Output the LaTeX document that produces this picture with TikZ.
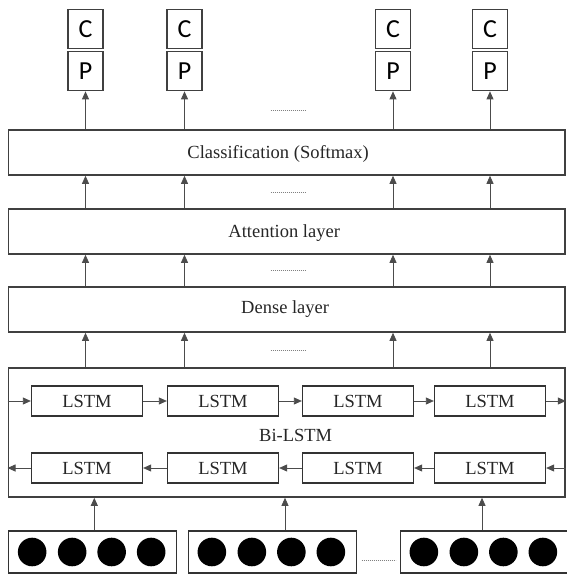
\documentclass[tikz,border=0pt]{standalone}
\usepackage{fontspec}
\setmainfont{Liberation Serif}
\newfontfamily\cpfont{Carlito}
\usepackage{tikz}
\usetikzlibrary{arrows.meta,positioning,calc}

\begin{document}
\begin{tikzpicture}[
  x=1pt, y=1pt,
  layer/.style={rectangle, draw=black!75, line width=1.6pt, minimum width=556.7pt, minimum height=45pt},
  lbl/.style={text=black!85, font=\fontsize{18.5}{22}\selectfont},
  cell/.style={rectangle, draw=black!80, line width=1.3pt, minimum width=111pt, minimum height=30pt, text=black!85, font=\fontsize{18.5}{22}\selectfont},
  outbox/.style={rectangle, draw=black!75, line width=1.3pt, minimum width=35pt, minimum height=39pt, inner sep=0pt, font=\cpfont\fontsize{26}{28}\selectfont},
  inbox/.style={rectangle, draw=black!80, line width=1.3pt, minimum width=168pt, minimum height=42pt},
  arrow/.style={-{Triangle[length=8pt, width=7pt]}, line width=0.8pt, draw=black!70},
  gapdots/.style={dash pattern=on 1.2pt off 0.8pt, line width=0.9pt, draw=black!50},
]
  \useasboundingbox (0,0) rectangle (566,-575);

  % Classification Layer
  \node[layer] (class) at (286.65,-152.5) {};
  \node[lbl] (classlbl) at ([xshift=-8.5pt, yshift=-1.5pt]class.center) {Classification (Softmax)};

  % Outputs
  \node[outbox] (p1) at ([xshift=-201.15pt, yshift=58pt]class.north) {P};
  \node[outbox] (p2) at ([xshift=-102.15pt, yshift=58pt]class.north) {P};
  \node[outbox] (p3) at ([xshift=106.35pt, yshift=58pt]class.north) {P};
  \node[outbox] (p4) at ([xshift=203.35pt, yshift=58pt]class.north) {P};
  \node[outbox, above=2.2pt of p1] (c1) {C};
  \node[outbox, above=2.2pt of p2] (c2) {C};
  \node[outbox, above=2.2pt of p3] (c3) {C};
  \node[outbox, above=2.2pt of p4] (c4) {C};

  % Attention and Dense Layers
  \node[layer, below=32.4pt of class] (att) {};
  \node[lbl] (attlbl) at ([xshift=-2.5pt, yshift=-1.5pt]att.center) {Attention layer};
  \node[layer, below=31.4pt of att] (dense) {};
  \node[lbl] (denselbl) at ([xshift=-1.5pt]dense.center) {Dense layer};

  % Bi-LSTM Layer
  \node[layer, minimum height=129pt, below=34.4pt of dense] (bilstm) {};
  \node[lbl] (bilbl) at ([xshift=9pt, yshift=-2.5pt]bilstm.center) {Bi-LSTM};
  \node[cell] (f1) at ([xshift=-199.65pt, yshift=31.5pt]bilstm.center) {LSTM};
  \node[cell] (f2) at ([xshift=-63.65pt, yshift=31.5pt]bilstm.center) {LSTM};
  \node[cell] (f3) at ([xshift=71.35pt, yshift=31.5pt]bilstm.center) {LSTM};
  \node[cell] (f4) at ([xshift=203.35pt, yshift=31.5pt]bilstm.center) {LSTM};
  \node[cell] (b1) at ([xshift=-199.65pt, yshift=-35.5pt]bilstm.center) {LSTM};
  \node[cell] (b2) at ([xshift=-63.65pt, yshift=-35.5pt]bilstm.center) {LSTM};
  \node[cell] (b3) at ([xshift=71.35pt, yshift=-35.5pt]bilstm.center) {LSTM};
  \node[cell] (b4) at ([xshift=203.35pt, yshift=-35.5pt]bilstm.center) {LSTM};

  % Input vectors
  \node[inbox] (in1) at ([xshift=-193.85pt, yshift=-54.2pt]bilstm.south) {};
  \node[inbox] (in2) at ([xshift=-14.15pt, yshift=-54.2pt]bilstm.south) {};
  \node[inbox] (in3) at ([xshift=197.85pt, yshift=-54.2pt]bilstm.south) {};
  \foreach \i in {1,2,3}
    \foreach \dx in {24,64,103.5,143}
      \fill[black] ([xshift=\dx pt]in\i.west) circle (14.3pt);

  % Arrows
  \foreach \i in {1,...,4} {
    \draw[arrow] (class.north -| p\i) -- (p\i.south);
    \draw[arrow] (att.north -| p\i) -- (class.south -| p\i);
    \draw[arrow] (dense.north -| p\i) -- (att.south -| p\i);
    \draw[arrow] (bilstm.north -| p\i) -- (dense.south -| p\i);
  }
  \draw[arrow] (f1.west -| bilstm.west) -- (f1.west);
  \draw[arrow] (f1) -- (f2);
  \draw[arrow] (f2) -- (f3);
  \draw[arrow] (f3) -- (f4);
  \draw[arrow] (f4.east) -- (f4.east -| bilstm.east);
  \draw[arrow] (b4.east -| bilstm.east) -- (b4.east);
  \draw[arrow] (b4) -- (b3);
  \draw[arrow] (b3) -- (b2);
  \draw[arrow] (b2) -- (b1);
  \draw[arrow] (b1.west) -- (b1.west -| bilstm.west);
  \foreach \i/\dx in {1/1.5, 2/12.5, 3/-2.5}
    \draw[arrow] ([xshift=\dx pt]in\i.north) -- ([xshift=\dx pt]in\i.north |- bilstm.south);

  % Gap dots
  \draw[gapdots] ($(class.north)!.5!(class.north |- p1.south)$) ++(-16,0) -- ++(35,0);
  \draw[gapdots] ($(class.south)!.5!(att.north)$) ++(-16,0) -- ++(35,0);
  \draw[gapdots] ($(att.south)!.5!(dense.north)$) ++(-16,0) -- ++(35,0);
  \draw[gapdots] ($(dense.south)!.5!(bilstm.north)$) ++(-16,0) -- ++(35,0);
  \draw[gapdots] ($(in2.east)!.5!(in3.west)$) ++(-17,-8) -- ++(34,0);
\end{tikzpicture}
\end{document}
